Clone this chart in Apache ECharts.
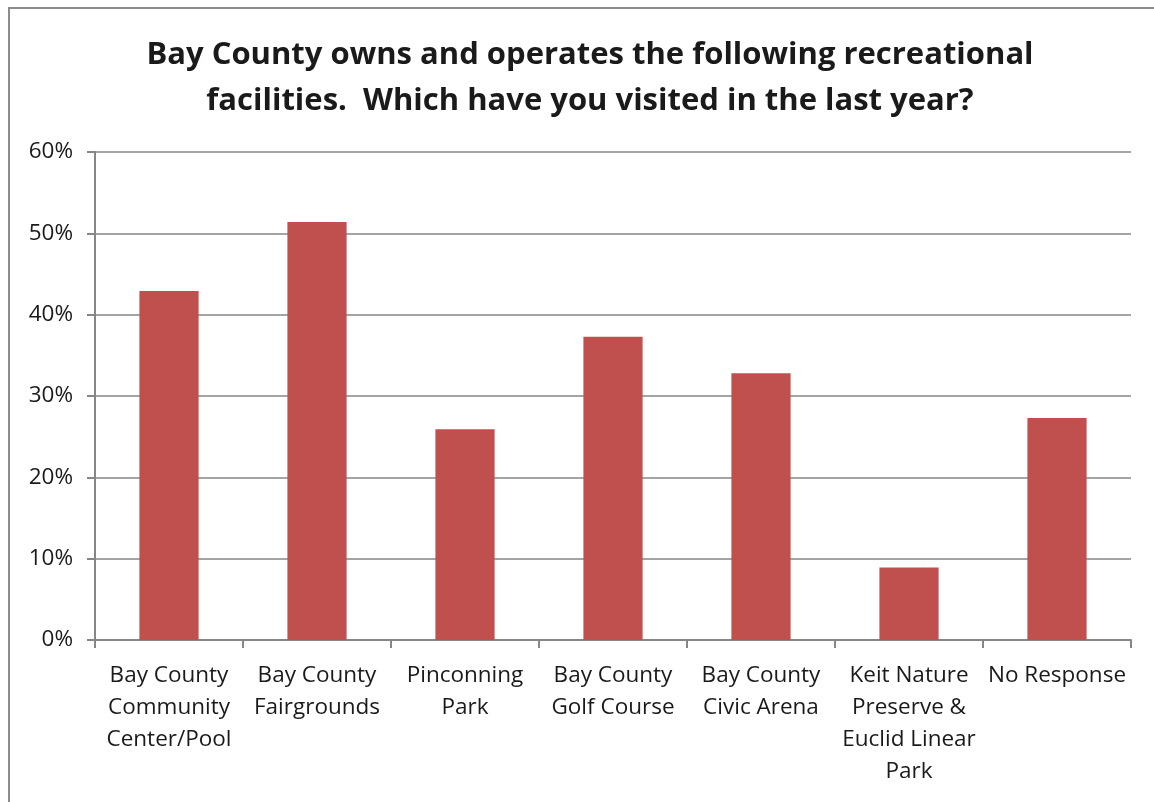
<!DOCTYPE html>
<html>
<head>
<meta charset="utf-8">
<script src="https://cdn.jsdelivr.net/npm/echarts@6/dist/echarts.min.js"></script>
<style>
html,body{margin:0;padding:0;background:#fff;overflow:hidden}
#frame{position:absolute;left:8px;top:7px;width:1200px;height:900px;border:2px solid #8c8c8c;box-sizing:border-box}
#chart{position:absolute;left:0;top:0;width:1154px;height:802px}
</style>
</head>
<body>
<div id="frame"></div>
<div id="chart"></div>
<script>
const titleText = "Bay County owns and operates the following recreational\nfacilities.  Which have you visited in the last year?";
const categories = [
  "Bay County\nCommunity\nCenter/Pool",
  "Bay County\nFairgrounds",
  "Pinconning\nPark",
  "Bay County\nGolf Course",
  "Bay County\nCivic Arena",
  "Keit Nature\nPreserve &\nEuclid Linear\nPark",
  "No Response"
];
const visitedPct = [42.9, 51.4, 25.9, 37.3, 32.8, 8.9, 27.3];
const yTicks = [0, 10, 20, 30, 40, 50, 60];

const chart = echarts.init(document.getElementById('chart'), null, {renderer:'canvas'});
const font = "'Open Sans', 'Liberation Sans', sans-serif";
chart.setOption({
  animation:false,
  backgroundColor:'transparent',
  title:{
    text:titleText,
    left:585, textAlign:'center',
    top:27,
    textStyle:{fontFamily:font, fontWeight:'bold', fontSize:31, lineHeight:46, color:'#1a1a1a'}
  },
  grid:{left:95, right:23, top:152, bottom:162, containLabel:false},
  xAxis:{
    type:'category',
    data:categories,
    axisLine:{lineStyle:{color:'#868686', width:2}},
    axisTick:{show:true, length:8, alignWithLabel:false, lineStyle:{color:'#868686', width:2}},
    axisLabel:{interval:0, margin:20, fontFamily:font, fontSize:22.5, lineHeight:32, color:'#1a1a1a'}
  },
  yAxis:{
    type:'value',
    min:yTicks[0], max:yTicks[yTicks.length-1], interval:10,
    axisLine:{show:true, lineStyle:{color:'#868686', width:2}},
    axisTick:{show:true, length:8, lineStyle:{color:'#868686', width:2}},
    splitLine:{lineStyle:{color:'#868686', width:1.5}},
    axisLabel:{margin:22, fontFamily:font, fontSize:22.5, color:'#1a1a1a', formatter:v=>v+'%'}
  },
  series:[{
    type:'bar',
    data:visitedPct,
    barWidth:'40%',
    itemStyle:{color:'#C0504D'}
  }]
});
</script>
</body>
</html>
